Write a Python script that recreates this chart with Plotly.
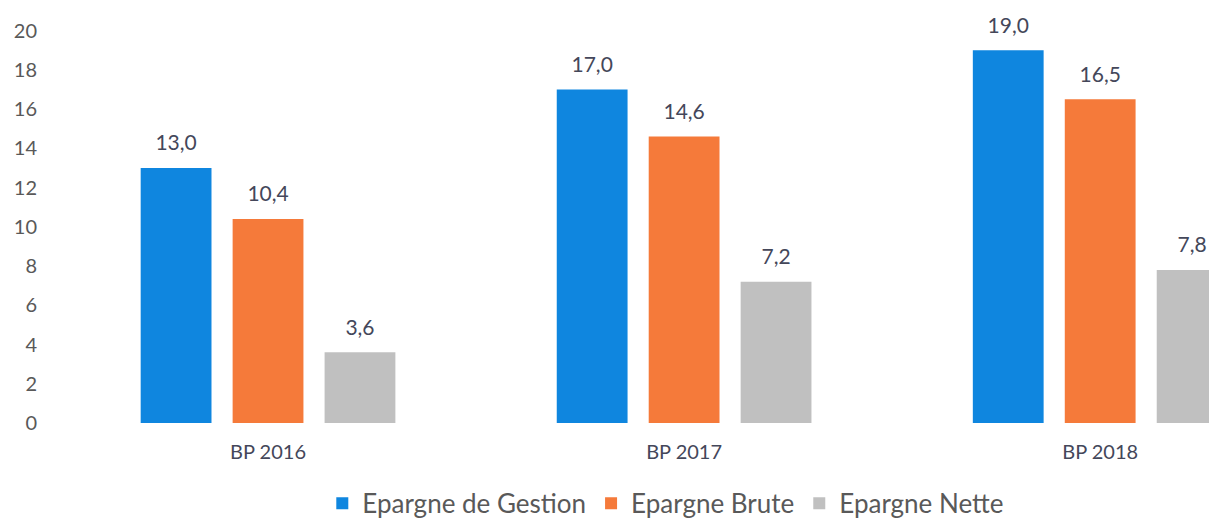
import plotly.graph_objects as go

categories = ["BP 2016", "BP 2017", "BP 2018"]
gestion = [13.0, 17.0, 19.0]
brute = [10.4, 14.6, 16.5]
nette = [3.6, 7.2, 7.8]
y_ticks = list(range(0, 21, 2))

fig = go.Figure()
series = [
    ("Epargne de Gestion", gestion, "#0F86DF"),
    ("Epargne Brute", brute, "#F57A3A"),
    ("Epargne Nette", nette, "#C0C0C0"),
]
for name, vals, color in series:
    fig.add_trace(go.Bar(x=categories, y=vals,
                         name=name,
                         offsetgroup=name,
                         marker=dict(color=color, line=dict(width=0))))
    # value labels: invisible marker pushes the text up a bit
    fig.add_trace(go.Scatter(x=categories, y=vals,
                             mode="markers+text",
                             offsetgroup=name,
                             marker=dict(size=18, color="rgba(0,0,0,0)"),
                             texttemplate="%{y:.1f}",
                             textposition="top center",
                             textfont=dict(size=21, color="#44475A"),
                             showlegend=False,
                             hoverinfo="skip",
                             cliponaxis=False))

fig.update_layout(
    width=1217, height=522,
    margin=dict(l=52, r=0, t=3, b=107, autoexpand=False),
    barmode="group",
    scattermode="group",
    bargap=0.337,
    bargroupgap=0.23,
    separators=", ",
    plot_bgcolor="white",
    paper_bgcolor="white",
    font=dict(family="Lato, Open Sans, sans-serif", color="#595959"),
    legend=dict(orientation="h", x=0.52, xanchor="center", y=-0.195, yanchor="middle",
                font=dict(size=26, color="#595959"), itemwidth=30,
                traceorder="normal"),
    xaxis=dict(range=[-0.5, 2.30], showgrid=False, showline=False, zeroline=False,
               tickfont=dict(size=20, color="#44475A"), ticklabelstandoff=15),
    yaxis=dict(range=[0, 21], tickvals=y_ticks, showgrid=False, showline=False, zeroline=False,
               tickfont=dict(size=20, color="#595959"), ticklabelstandoff=22),
)

fig.write_html("out.html")
